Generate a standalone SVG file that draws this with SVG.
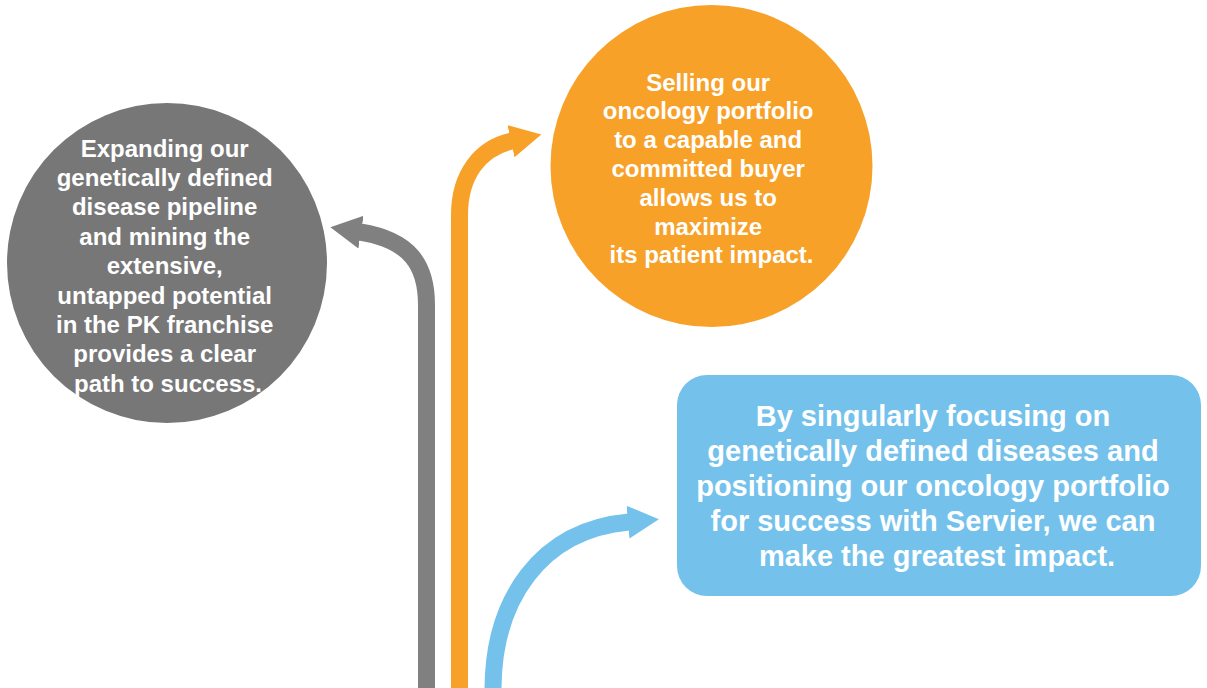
<svg xmlns="http://www.w3.org/2000/svg" width="1207" height="688" viewBox="0 0 1207 688">
  <style>
    .label { font-family: "Liberation Sans", Arial, sans-serif; font-weight: bold; fill: #ffffff; text-anchor: middle; }
    .small { font-size: 24px; }
    .large { font-size: 29px; }
    .shaft { fill: none; stroke-width: 17; }
  </style>
  <defs>
    <marker id="head-gray" markerUnits="userSpaceOnUse" viewBox="0 -17 32 34" refX="1" refY="0" markerWidth="32" markerHeight="34" orient="auto">
      <path d="M0,-16.5 L31,0 L0,16.5 Z" fill="#808080"/>
    </marker>
    <marker id="head-orange" markerUnits="userSpaceOnUse" viewBox="0 -17 32 34" refX="1" refY="0" markerWidth="32" markerHeight="34" orient="auto">
      <path d="M0,-16.5 L31,0 L0,16.5 Z" fill="#f7a128"/>
    </marker>
    <marker id="head-blue" markerUnits="userSpaceOnUse" viewBox="0 -17 32 34" refX="1" refY="0" markerWidth="32" markerHeight="34" orient="auto">
      <path d="M0,-16.5 L31,0 L0,16.5 Z" fill="#74c2ec"/>
    </marker>
  </defs>

  <rect width="1207" height="688" fill="#ffffff"/>

  <!-- connectors: three curved arrows rising from the bottom edge -->
  <g id="connectors">
    <path class="shaft" stroke="#808080" d="M426.5,690 L426.5,305 C426.5,265 410,240 360,232" marker-end="url(#head-gray)"/>
    <path class="shaft" stroke="#f7a128" d="M459.5,690 L459.5,215 C459.5,175 480,148 512,141" marker-end="url(#head-orange)"/>
    <path class="shaft" stroke="#74c2ec" d="M493,690 C493,600 540,530 629,522" marker-end="url(#head-blue)"/>
  </g>

  <!-- grey circle -->
  <g id="node-pipeline">
    <circle cx="167" cy="263" r="160" fill="#777777"/>
    <text class="label small" x="168" y="156.5">
      <tspan x="168">Expanding our</tspan>
      <tspan x="168" dy="29.4">genetically defined</tspan>
      <tspan x="168" dy="29.4">disease pipeline</tspan>
      <tspan x="168" dy="29.4">and mining the</tspan>
      <tspan x="168" dy="29.4">extensive,</tspan>
      <tspan x="168" dy="29.4">untapped potential</tspan>
      <tspan x="168" dy="29.4">in the PK franchise</tspan>
      <tspan x="168" dy="29.4">provides a clear</tspan>
      <tspan x="168" dy="29.4">path to success.</tspan>
    </text>
  </g>

  <!-- orange circle -->
  <g id="node-oncology">
    <circle cx="711.5" cy="166" r="161" fill="#f7a128"/>
    <text class="label small" x="711.5" y="90.5">
      <tspan x="711.5">Selling our</tspan>
      <tspan x="711.5" dy="28.8">oncology portfolio</tspan>
      <tspan x="711.5" dy="28.8">to a capable and</tspan>
      <tspan x="711.5" dy="28.8">committed buyer</tspan>
      <tspan x="711.5" dy="28.8">allows us to</tspan>
      <tspan x="711.5" dy="28.8">maximize</tspan>
      <tspan x="711.5" dy="28.8">its patient impact.</tspan>
    </text>
  </g>

  <!-- blue rounded box -->
  <g id="node-impact">
    <rect x="677" y="375" width="524" height="221" rx="30" ry="30" fill="#74c2ec"/>
    <text class="label large" x="937" y="425.5">
      <tspan x="937">By singularly focusing on</tspan>
      <tspan x="937" dy="35">genetically defined diseases and</tspan>
      <tspan x="937" dy="35">positioning our oncology portfolio</tspan>
      <tspan x="937" dy="35">for success with Servier, we can</tspan>
      <tspan x="937" dy="35">make the greatest impact.</tspan>
    </text>
  </g>
</svg>
